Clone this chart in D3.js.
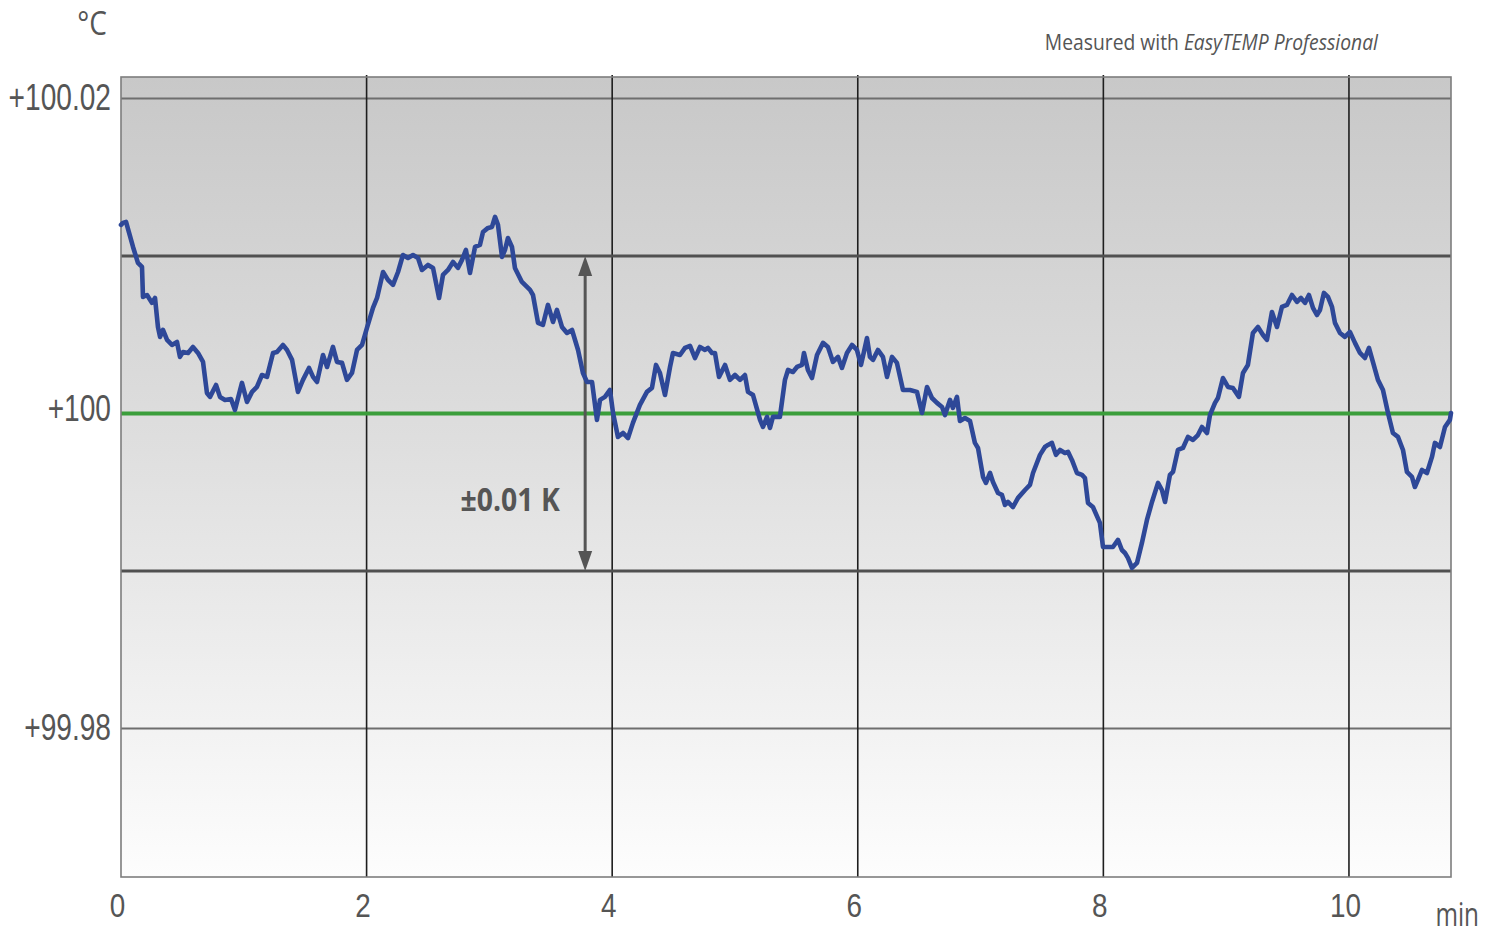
<!DOCTYPE html>
<html>
<head>
<meta charset="utf-8">
<script src="https://cdn.jsdelivr.net/npm/d3@7"></script>
<style>
  body { margin: 0; background: #fff; }
  svg { display: block; font-family: "Open Sans", "DejaVu Sans", sans-serif; }
</style>
</head>
<body>
<svg id="chart" width="1499" height="937"></svg>
<script>
// time in minutes, temperature in °C
var timeMin = [0.000,0.016,0.041,0.098,0.138,0.171,0.179,0.212,0.252,0.277,0.301,0.318,0.342,0.375,0.415,0.456,0.480,0.505,0.546,0.586,0.627,0.668,0.700,0.725,0.774,0.806,0.847,0.896,0.928,0.985,1.026,1.067,1.107,1.148,1.189,1.238,1.270,1.319,1.352,1.393,1.441,1.482,1.531,1.564,1.596,1.645,1.678,1.726,1.759,1.800,1.840,1.881,1.922,1.963,2.003,2.052,2.085,2.134,2.174,2.215,2.256,2.296,2.337,2.378,2.419,2.451,2.500,2.541,2.590,2.622,2.663,2.704,2.744,2.777,2.809,2.842,2.883,2.923,2.948,2.989,3.021,3.046,3.070,3.103,3.127,3.151,3.184,3.208,3.265,3.331,3.355,3.396,3.436,3.477,3.518,3.550,3.591,3.632,3.673,3.722,3.762,3.795,3.836,3.876,3.901,3.941,3.982,4.007,4.047,4.088,4.129,4.169,4.226,4.283,4.324,4.357,4.389,4.430,4.471,4.495,4.552,4.593,4.634,4.674,4.715,4.756,4.780,4.813,4.837,4.870,4.919,4.959,5.000,5.041,5.081,5.106,5.147,5.204,5.228,5.261,5.285,5.309,5.366,5.407,5.432,5.472,5.505,5.546,5.562,5.594,5.627,5.668,5.717,5.757,5.798,5.839,5.871,5.912,5.953,5.993,6.026,6.050,6.075,6.099,6.124,6.164,6.205,6.238,6.279,6.319,6.368,6.425,6.482,6.523,6.564,6.604,6.645,6.686,6.710,6.751,6.775,6.808,6.832,6.873,6.914,6.954,6.979,7.020,7.044,7.077,7.101,7.142,7.174,7.199,7.223,7.264,7.305,7.362,7.402,7.427,7.484,7.524,7.549,7.581,7.614,7.647,7.687,7.712,7.744,7.785,7.826,7.850,7.875,7.915,7.972,7.997,8.037,8.078,8.119,8.151,8.176,8.200,8.233,8.274,8.314,8.355,8.396,8.445,8.477,8.502,8.542,8.567,8.607,8.648,8.689,8.730,8.770,8.803,8.844,8.868,8.909,8.933,8.974,9.015,9.055,9.104,9.137,9.177,9.218,9.259,9.300,9.332,9.373,9.414,9.454,9.495,9.536,9.577,9.609,9.642,9.674,9.707,9.739,9.764,9.796,9.829,9.862,9.886,9.927,9.967,10.008,10.049,10.090,10.130,10.163,10.195,10.236,10.277,10.318,10.358,10.399,10.440,10.472,10.513,10.537,10.562,10.594,10.635,10.676,10.700,10.741,10.782,10.822,10.831];
var tempC = [100.01197,100.01210,100.01216,100.01057,100.00956,100.00930,100.00740,100.00752,100.00702,100.00733,100.00549,100.00486,100.00530,100.00467,100.00435,100.00454,100.00359,100.00390,100.00384,100.00422,100.00384,100.00327,100.00130,100.00105,100.00181,100.00105,100.00086,100.00092,100.00022,100.00194,100.00073,100.00137,100.00168,100.00244,100.00232,100.00384,100.00390,100.00435,100.00403,100.00340,100.00137,100.00213,100.00289,100.00232,100.00200,100.00371,100.00295,100.00422,100.00327,100.00321,100.00213,100.00257,100.00403,100.00435,100.00543,100.00670,100.00733,100.00898,100.00848,100.00816,100.00898,100.01006,100.00987,100.01006,100.00987,100.00911,100.00943,100.00924,100.00733,100.00879,100.00911,100.00962,100.00924,100.00975,100.01038,100.00892,100.01057,100.01070,100.01152,100.01178,100.01184,100.01248,100.01197,100.00994,100.01038,100.01114,100.01057,100.00924,100.00835,100.00784,100.00752,100.00575,100.00562,100.00689,100.00581,100.00657,100.00549,100.00511,100.00530,100.00403,100.00257,100.00200,100.00200,99.99959,100.00086,100.00105,100.00149,100.00003,99.99851,99.99876,99.99844,99.99940,100.00054,100.00137,100.00162,100.00308,100.00257,100.00117,100.00295,100.00384,100.00371,100.00416,100.00429,100.00352,100.00422,100.00403,100.00416,100.00384,100.00384,100.00232,100.00308,100.00213,100.00244,100.00213,100.00244,100.00137,100.00117,99.99959,99.99914,99.99978,99.99908,99.99978,99.99978,100.00213,100.00276,100.00263,100.00295,100.00308,100.00384,100.00276,100.00225,100.00371,100.00448,100.00422,100.00327,100.00359,100.00289,100.00384,100.00435,100.00403,100.00308,100.00390,100.00479,100.00359,100.00340,100.00403,100.00359,100.00232,100.00359,100.00321,100.00149,100.00149,100.00137,100.00003,100.00168,100.00098,100.00067,100.00041,99.99990,100.00086,100.00035,100.00105,99.99952,99.99971,99.99952,99.99813,99.99781,99.99597,99.99559,99.99622,99.99565,99.99495,99.99483,99.99419,99.99438,99.99406,99.99464,99.99514,99.99546,99.99622,99.99737,99.99787,99.99800,99.99813,99.99737,99.99768,99.99749,99.99756,99.99705,99.99622,99.99610,99.99590,99.99432,99.99406,99.99305,99.99152,99.99152,99.99152,99.99197,99.99133,99.99114,99.99083,99.99019,99.99051,99.99178,99.99324,99.99438,99.99559,99.99514,99.99438,99.99610,99.99629,99.99768,99.99781,99.99851,99.99832,99.99863,99.99914,99.99876,99.99990,100.00067,100.00098,100.00225,100.00168,100.00162,100.00105,100.00257,100.00308,100.00511,100.00549,100.00498,100.00467,100.00644,100.00549,100.00676,100.00689,100.00752,100.00708,100.00733,100.00702,100.00752,100.00670,100.00625,100.00657,100.00765,100.00740,100.00676,100.00575,100.00511,100.00486,100.00517,100.00448,100.00384,100.00352,100.00416,100.00327,100.00213,100.00149,100.00003,99.99876,99.99851,99.99768,99.99629,99.99597,99.99533,99.99578,99.99641,99.99622,99.99724,99.99813,99.99787,99.99914,99.99959,100.00003];

var xTicks = [0, 2, 4, 6, 8, 10];
var yTicks = [100.02, 100, 99.98];
var yTickLabels = ["+100.02", "+100", "+99.98"];
var setpoint = 100;
var tolerance = [100.01, 99.99];
var arrowAt = 3.78;

var margin = {top: 77, left: 121},
    width = 1330, height = 800;

var svg = d3.select("#chart");
var defs = svg.append("defs");
var grad = defs.append("linearGradient").attr("id", "bg")
  .attr("x1", 0).attr("y1", 0).attr("x2", 0).attr("y2", 1);
grad.append("stop").attr("offset", "0%").attr("stop-color", "#c8c8c8");
grad.append("stop").attr("offset", "45%").attr("stop-color", "#dedede");
grad.append("stop").attr("offset", "100%").attr("stop-color", "#fdfdfd");

var g = svg.append("g").attr("transform", "translate(" + margin.left + "," + margin.top + ")");

var x = d3.scaleLinear().domain([0, 10.831]).range([0, width]);
var y = d3.scaleLinear().domain([99.97057, 100.02136]).range([height, 0]);

g.append("rect").attr("width", width).attr("height", height).attr("fill", "url(#bg)");

// outer grid lines
g.selectAll(".hgrid").data([100.02, 99.98]).enter().append("line")
  .attr("x1", 0).attr("x2", width)
  .attr("y1", function(d) { return y(d); }).attr("y2", function(d) { return y(d); })
  .attr("stroke", "#6e6e6e").attr("stroke-width", 2);

g.selectAll(".vgrid").data(xTicks.slice(1)).enter().append("line")
  .attr("x1", function(d) { return x(d); }).attr("x2", function(d) { return x(d); })
  .attr("y1", -2).attr("y2", height)
  .attr("stroke", "#1e1e1e").attr("stroke-width", 1.6);

// tolerance band
g.selectAll(".tol").data(tolerance).enter().append("line")
  .attr("x1", 0).attr("x2", width)
  .attr("y1", function(d) { return y(d); }).attr("y2", function(d) { return y(d); })
  .attr("stroke", "#505050").attr("stroke-width", 3);

g.append("line")
  .attr("x1", 0).attr("x2", width)
  .attr("y1", y(setpoint)).attr("y2", y(setpoint))
  .attr("stroke", "#3b9e3b").attr("stroke-width", 4);

// border
g.append("rect").attr("width", width).attr("height", height)
  .attr("fill", "none").attr("stroke", "#7d7d7d").attr("stroke-width", 1.6);

// arrow
var ax = x(arrowAt), ya = y(tolerance[0]), yb = y(tolerance[1]);
g.append("line").attr("x1", ax).attr("x2", ax).attr("y1", ya + 16).attr("y2", yb - 16)
  .attr("stroke", "#555").attr("stroke-width", 3);
g.append("path").attr("d", "M" + ax + "," + ya + "l-7,20h14z").attr("fill", "#555");
g.append("path").attr("d", "M" + ax + "," + yb + "l-7,-20h14z").attr("fill", "#555");

g.append("text")
  .attr("transform", "translate(" + (x(arrowAt) - 75) + "," + (y(99.995) + 19) + ") scale(0.86,1)")
  .attr("text-anchor", "middle").attr("font-size", 33).attr("font-weight", "bold")
  .attr("fill", "#555").text("±0.01 K");

// data line
var line = d3.line()
  .x(function(d, i) { return x(timeMin[i]); })
  .y(function(d) { return y(d); });
g.append("path").datum(tempC).attr("d", line)
  .attr("fill", "none").attr("stroke", "#2e4898").attr("stroke-width", 4.6)
  .attr("stroke-linejoin", "round").attr("stroke-linecap", "round");

// axes
var xAxis = g.append("g").attr("transform", "translate(0," + height + ")")
  .call(d3.axisBottom(x).tickValues(xTicks).tickSize(0).tickPadding(0));
xAxis.select(".domain").remove();
xAxis.selectAll("text")
  .attr("y", 0).attr("dy", 0)
  .attr("transform", "translate(-4,40) scale(0.82,1)")
  .attr("font-size", 34).attr("fill", "#555").attr("font-family", null);

var yAxis = g.append("g")
  .call(d3.axisLeft(y).tickValues(yTicks).tickSize(0)
    .tickFormat(function(d, i) { return yTickLabels[i]; }));
yAxis.select(".domain").remove();
yAxis.selectAll("text")
  .attr("x", 0).attr("dy", 0)
  .attr("transform", function(d) { return "translate(-10," + (d === 100 ? 7 : 11) + ") scale(0.76,1)"; })
  .attr("font-size", 37).attr("fill", "#555").attr("font-family", null);

svg.append("text").attr("transform", "translate(92,35) scale(0.85,1)")
  .attr("text-anchor", "middle").attr("font-size", 33).attr("fill", "#555").text("°C");

svg.append("text").attr("transform", "translate(1479,926) scale(0.76,1)")
  .attr("text-anchor", "end").attr("font-size", 32).attr("fill", "#555").text("min");

var note = svg.append("text").attr("transform", "translate(1378,50) scale(0.92,1)")
  .attr("text-anchor", "end").attr("font-size", 21).attr("fill", "#555");
note.append("tspan").text("Measured with ");
note.append("tspan").attr("font-style", "italic").text("EasyTEMP Professional");
</script>
</body>
</html>
